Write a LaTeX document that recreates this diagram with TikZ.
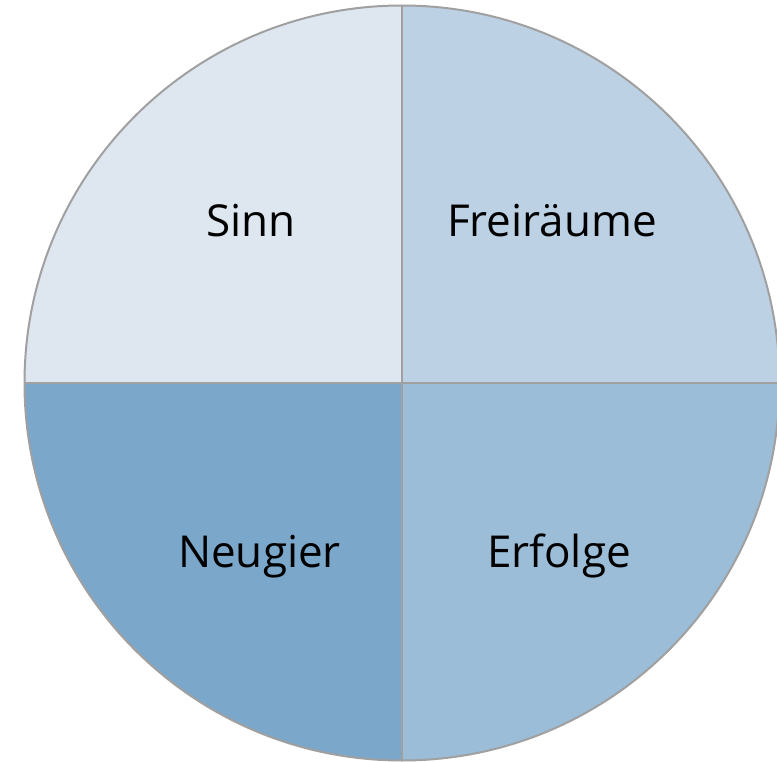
\documentclass[tikz,border=0pt]{standalone}
\usepackage{fontspec}
\setmainfont{Open Sans}
\definecolor{qa}{HTML}{DEE7F0}
\definecolor{qb}{HTML}{BDD1E4}
\definecolor{qc}{HTML}{7BA7CA}
\definecolor{qd}{HTML}{9BBDD7}
\definecolor{edge}{HTML}{A0A0A0}
\tikzset{
  quad/.style={draw=edge, line width=2pt, line join=round},
  lbl/.style={font=\fontsize{44}{50}\selectfont, text=black, inner sep=0pt, anchor=base}
}
\begin{document}
\begin{tikzpicture}[x=1pt,y=-1pt]
\useasboundingbox (0,0) rectangle (777,762);
\clip (0,0) rectangle (777,762);
\coordinate (c) at (402,383);
\def\R{377.5}
% y axis points down: angle 270 is up, 90 is down
\fill[qa] (c) -- ++(180:\R) arc[start angle=180, end angle=270, radius=\R] -- cycle;
\fill[qb] (c) -- ++(270:\R) arc[start angle=270, end angle=360, radius=\R] -- cycle;
\fill[qc] (c) -- ++(90:\R) arc[start angle=90, end angle=180, radius=\R] -- cycle;
\fill[qd] (c) -- ++(0:\R) arc[start angle=0, end angle=90, radius=\R] -- cycle;
\draw[quad] (c) circle[radius=\R];
\draw[quad] ([yshift=-\R]c) -- ([yshift=\R]c);
\draw[quad] ([xshift=-\R]c) -- ([xshift=\R]c);
\node[lbl] (sinn) at (251,237) {Sinn};
\node[lbl] (frei) at (552,237) {Freiräume};
\node[lbl] (neu) at (259.5,567) {Neugier};
\node[lbl] (erf) at (559,567) {Erfolge};
\end{tikzpicture}
\end{document}
